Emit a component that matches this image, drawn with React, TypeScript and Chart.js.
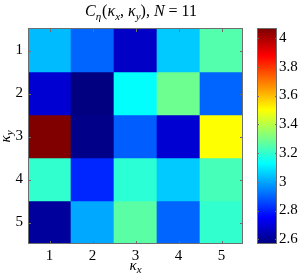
import React, { useEffect, useRef } from "react";
import { Chart, registerables } from "chart.js";

Chart.register(...registerables);

// ---- data ----
const xCategories = ["1", "2", "3", "4", "5"];
const yRows = [1, 2, 3, 4, 5];
const row1 = [3.03, 2.9, 2.67, 3.05, 3.25];
const row2 = [2.69, 2.567, 3.13, 3.29, 2.9];
const row3 = [4.063, 2.58, 2.89, 2.69, 3.5];
const row4 = [3.2, 2.81, 3.19, 3.05, 3.23];
const row5 = [2.61, 3.0, 3.26, 2.9, 3.2];
const rows = [row1, row2, row3, row4, row5];
const colorbarTicks = [2.6, 2.8, 3.0, 3.2, 3.4, 3.6, 3.8, 4.0];

const CMIN = Math.min(...rows.flat());
const CMAX = Math.max(...rows.flat());

const SERIF = '"Liberation Serif", "Times New Roman", serif';
const AXIS_GRAY = "#6e6e6e";

function clamp01(v: number) {
  return Math.max(0, Math.min(1, v));
}
function jet(t: number) {
  t = clamp01(t);
  const r = clamp01(1.5 - Math.abs(4 * t - 3));
  const g = clamp01(1.5 - Math.abs(4 * t - 2));
  const b = clamp01(1.5 - Math.abs(4 * t - 1));
  return `rgb(${Math.round(r * 255)},${Math.round(g * 255)},${Math.round(b * 255)})`;
}
function norm(v: number) {
  return (v - CMIN) / (CMAX - CMIN);
}

type Part = { t: string; italic?: boolean; sub?: boolean; gap?: number };

function partFont(p: Part, size: number) {
  const s = p.sub ? Math.round(size * 0.7) : size;
  return `${p.italic ? "italic " : ""}${s}px ${SERIF}`;
}
function measureParts(ctx: CanvasRenderingContext2D, parts: Part[], size: number) {
  let w = 0;
  for (const p of parts) {
    ctx.font = partFont(p, size);
    w += ctx.measureText(p.t).width + (p.gap || 0);
  }
  return w;
}
function drawParts(ctx: CanvasRenderingContext2D, parts: Part[], size: number, cx: number, baseline: number) {
  const total = measureParts(ctx, parts, size);
  let x = cx - total / 2;
  ctx.textBaseline = "alphabetic";
  ctx.textAlign = "left";
  ctx.fillStyle = "#000";
  for (const p of parts) {
    ctx.font = partFont(p, size);
    ctx.fillText(p.t, x, baseline + (p.sub ? size * 0.22 : 0));
    x += ctx.measureText(p.t).width + (p.gap || 0);
  }
}

const titleParts: Part[] = [
  { t: "C", italic: true },
  { t: "η", italic: true, sub: true, gap: 1 },
  { t: "(" },
  { t: "κ", italic: true },
  { t: "x", italic: true, sub: true },
  { t: ",", gap: 4 },
  { t: "κ", italic: true },
  { t: "y", italic: true, sub: true },
  { t: ")" },
  { t: ",", gap: 4 },
  { t: "N", italic: true, gap: 4 },
  { t: "=", gap: 4 },
  { t: "11" },
];
const xLabelParts: Part[] = [{ t: "κ", italic: true }, { t: "x", italic: true, sub: true }];
const yLabelParts: Part[] = [{ t: "κ", italic: true }, { t: "y", italic: true, sub: true }];

function drawBoxTicks(ctx: CanvasRenderingContext2D, ca: any, xs: number[], ys: number[], len: number) {
  ctx.save();
  ctx.strokeStyle = AXIS_GRAY;
  ctx.lineWidth = 1;
  ctx.beginPath();
  for (const x of xs) {
    const px = Math.round(x) + 0.5;
    ctx.moveTo(px, ca.top);
    ctx.lineTo(px, ca.top + len);
    ctx.moveTo(px, ca.bottom);
    ctx.lineTo(px, ca.bottom - len);
  }
  for (const y of ys) {
    const py = Math.round(y) + 0.5;
    ctx.moveTo(ca.left, py);
    ctx.lineTo(ca.left + len, py);
    ctx.moveTo(ca.right, py);
    ctx.lineTo(ca.right - len, py);
  }
  ctx.stroke();
  ctx.strokeRect(Math.round(ca.left) + 0.5, Math.round(ca.top) - 0.5, Math.round(ca.right - ca.left) - 1, Math.round(ca.bottom - ca.top));
  ctx.restore();
}

const heatDecor = {
  id: "heatDecor",
  afterDraw(chart: any) {
    const ctx = chart.ctx as CanvasRenderingContext2D;
    const ca = chart.chartArea;
    const xs = xCategories.map((_, i) => chart.scales.x.getPixelForValue(i));
    const ys = yRows.map((v) => chart.scales.y.getPixelForValue(v));
    drawBoxTicks(ctx, ca, xs, ys, 3);
    ctx.save();
    drawParts(ctx, titleParts, 16, 141, 16);
    drawParts(ctx, xLabelParts, 15, (ca.left + ca.right) / 2, 270);
    ctx.translate(10, (ca.top + ca.bottom) / 2);
    ctx.rotate(-Math.PI / 2);
    drawParts(ctx, yLabelParts, 15, 0, 0);
    ctx.restore();
  },
};

const cbDecor = {
  id: "cbDecor",
  afterDraw(chart: any) {
    const ctx = chart.ctx as CanvasRenderingContext2D;
    const ca = chart.chartArea;
    const ys = colorbarTicks.map((v) => chart.scales.y.getPixelForValue(v));
    drawBoxTicks(ctx, ca, [], ys, 2);
  },
};

export default function App() {
  const heatRef = useRef<HTMLCanvasElement>(null);
  const cbRef = useRef<HTMLCanvasElement>(null);

  useEffect(() => {
    const tickFont = { family: SERIF, size: 15 };
    const heat = new Chart(heatRef.current!, {
      type: "bar",
      data: {
        labels: xCategories,
        datasets: yRows.map((r, ri) => ({
          label: `row ${r}`,
          data: xCategories.map(() => [r - 0.5, r + 0.5]) as any,
          backgroundColor: rows[ri].map((v) => jet(norm(v))),
          borderWidth: 0,
          barPercentage: 1,
          categoryPercentage: 1,
          grouped: false,
        })),
      },
      options: {
        responsive: false,
        animation: false,
        events: [],
        layout: { padding: { top: 29, left: 0, right: 58, bottom: 0 } },
        plugins: { legend: { display: false }, tooltip: { enabled: false }, title: { display: false } },
        scales: {
          x: {
            type: "category",
            offset: true,
            grid: { display: false, drawTicks: false },
            border: { display: false },
            ticks: { font: tickFont, color: "#000", padding: 3, maxRotation: 0 },
            afterFit: (s: any) => {
              s.height = 32;
            },
          },
          y: {
            type: "linear",
            min: 0.5,
            max: 5.5,
            reverse: true,
            grid: { display: false, drawTicks: false },
            border: { display: false },
            ticks: { font: tickFont, color: "#000", padding: 5, callback: (v: any) => String(v) },
            afterBuildTicks: (s: any) => {
              s.ticks = yRows.map((v) => ({ value: v }));
            },
            afterFit: (s: any) => {
              s.width = 28;
            },
          },
        },
      } as any,
      plugins: [heatDecor],
    });

    const cb = new Chart(cbRef.current!, {
      type: "bar",
      data: {
        labels: [""],
        datasets: [
          {
            label: "colorbar",
            data: [[CMIN, CMAX]] as any,
            borderWidth: 0,
            barPercentage: 1,
            categoryPercentage: 1,
            backgroundColor: (c: any) => {
              const chart = c.chart;
              if (!chart.chartArea) return "blue";
              const y = chart.scales.y;
              const g = chart.ctx.createLinearGradient(0, y.getPixelForValue(CMIN), 0, y.getPixelForValue(CMAX));
              for (let i = 0; i <= 64; i++) g.addColorStop(i / 64, jet(i / 64));
              return g;
            },
          },
        ],
      },
      options: {
        responsive: false,
        animation: false,
        events: [],
        layout: { padding: { top: 29, left: 257, right: 0, bottom: 32 } },
        plugins: { legend: { display: false }, tooltip: { enabled: false } },
        scales: {
          x: { display: false, offset: true },
          y: {
            position: "right",
            min: CMIN,
            max: CMAX,
            grid: { display: false, drawTicks: false },
            border: { display: false },
            ticks: {
              font: tickFont,
              color: "#000",
              padding: 2,
              callback: (v: any) => String(Math.round(v * 10) / 10),
            },
            afterBuildTicks: (s: any) => {
              s.ticks = colorbarTicks.map((v) => ({ value: v }));
            },
            afterFit: (s: any) => {
              s.width = 24;
            },
          },
        },
      } as any,
      plugins: [cbDecor],
    });

    return () => {
      heat.destroy();
      cb.destroy();
    };
  }, []);

  return (
    <div style={{ position: "fixed", left: 0, top: 0, width: 301, height: 276, background: "#fff" }}>
      <canvas ref={heatRef} width={301} height={276} style={{ position: "absolute", left: 0, top: 0 }} />
      <canvas ref={cbRef} width={301} height={276} style={{ position: "absolute", left: 0, top: 0 }} />
    </div>
  );
}
